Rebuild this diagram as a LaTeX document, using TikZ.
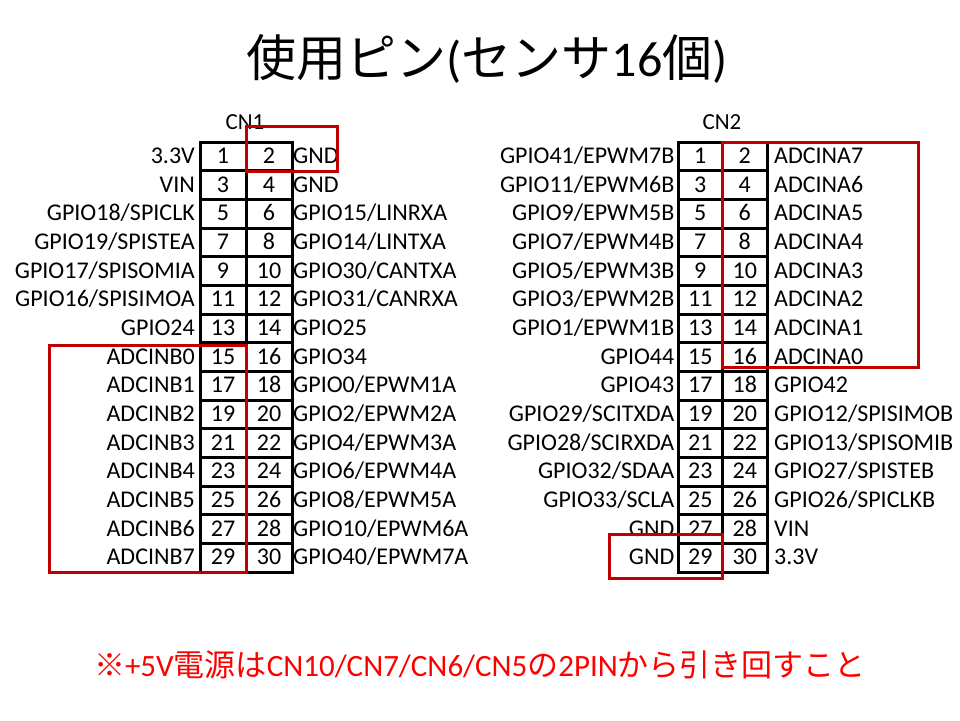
\documentclass[tikz,border=0pt]{standalone}
\usepackage{fontspec}
\setmainfont{Carlito}
\newfontfamily\jpfont{Noto Sans CJK JP}
\usepackage{tikz}
\usepackage{xcolor}
\definecolor{boxred}{HTML}{C00000}
\definecolor{notered}{HTML}{FF0000}

\begin{document}
\begin{tikzpicture}[x=1pt,y=-1pt,
		pin/.style={draw,line width=3pt,minimum height=28.667pt,inner sep=0pt,text height=14pt,text depth=0pt,font=\fontsize{24}{28}\selectfont},
		pinname/.style={inner sep=0pt,text height=14pt,text depth=0pt,font=\fontsize{24}{28}\selectfont},
		cnname/.style={font=\fontsize{23}{27}\selectfont},
		mark box/.style={draw=boxred,line width=3pt}]
			\useasboundingbox (0,0) rectangle (960,720);
			\node (title) at (487,59) {\fontsize{50}{60}\selectfont{\jpfont 使用ピン}({\jpfont センサ}16{\jpfont 個})};
			% CN1
			\node[cnname] (cn1) at (245,122) {CN1};
			\foreach \r/\lt/\rt in {1/{3.3V}/{GND},2/{VIN}/{GND},3/{GPIO18/SPICLK}/{GPIO15/LINRXA},
				4/{GPIO19/SPISTEA}/{GPIO14/LINTXA},5/{GPIO17/SPISOMIA}/{GPIO30/CANTXA},
				6/{GPIO16/SPISIMOA}/{GPIO31/CANRXA},7/{GPIO24}/{GPIO25},8/{ADCINB0}/{GPIO34},
				9/{ADCINB1}/{GPIO0/EPWM1A},10/{ADCINB2}/{GPIO2/EPWM2A},11/{ADCINB3}/{GPIO4/EPWM3A},
				12/{ADCINB4}/{GPIO6/EPWM4A},13/{ADCINB5}/{GPIO8/EPWM5A},14/{ADCINB6}/{GPIO10/EPWM6A},
				15/{ADCINB7}/{GPIO40/EPWM7A}} {
				\pgfmathtruncatemacro\po{2*\r-1}
				\pgfmathtruncatemacro\pe{2*\r}
				\node[pin,minimum width=46pt] (cn1p\po) at (223,{142+28.667*(\r-0.5)}) {\po};
				\node[pin,minimum width=46pt] (cn1p\pe) at (269,{142+28.667*(\r-0.5)}) {\pe};
				\node[pinname,anchor=east] (cn1n\po) at (195,{142+28.667*(\r-0.5)}) {\lt};
				\node[pinname,anchor=west] (cn1n\pe) at (293,{142+28.667*(\r-0.5)}) {\rt};
			}
			% CN2
			\node[cnname] (cn2) at (722,122) {CN2};
			\foreach \r/\lt/\rt in {1/{GPIO41/EPWM7B}/{ADCINA7},2/{GPIO11/EPWM6B}/{ADCINA6},
				3/{GPIO9/EPWM5B}/{ADCINA5},4/{GPIO7/EPWM4B}/{ADCINA4},5/{GPIO5/EPWM3B}/{ADCINA3},
				6/{GPIO3/EPWM2B}/{ADCINA2},7/{GPIO1/EPWM1B}/{ADCINA1},8/{GPIO44}/{ADCINA0},
				9/{GPIO43}/{GPIO42},10/{GPIO29/SCITXDA}/{GPIO12/SPISIMOB},11/{GPIO28/SCIRXDA}/{GPIO13/SPISOMIB},
				12/{GPIO32/SDAA}/{GPIO27/SPISTEB},13/{GPIO33/SCLA}/{GPIO26/SPICLKB},14/{GND}/{VIN},
				15/{GND}/{3.3V}} {
				\pgfmathtruncatemacro\po{2*\r-1}
				\pgfmathtruncatemacro\pe{2*\r}
				\node[pin,minimum width=44.5pt] (cn2p\po) at (700.25,{142+28.667*(\r-0.5)}) {\po};
				\node[pin,minimum width=44.5pt] (cn2p\pe) at (744.75,{142+28.667*(\r-0.5)}) {\pe};
				\node[pinname,anchor=east] (cn2n\po) at (674.5,{142+28.667*(\r-0.5)}) {\lt};
				\node[pinname,anchor=west] (cn2n\pe) at (774,{142+28.667*(\r-0.5)}) {\rt};
			}
			% used pins
			\draw[mark box] (246,126) rectangle (337,171);
			\draw[mark box] (49,345) rectangle (246,572);
			\draw[mark box] (722,142) rectangle (918,367);
			\draw[mark box] (609,534) rectangle (722,578);
			\node[text=notered] (note) at (480,665) {\fontsize{31}{36}\selectfont{\jpfont ※}+5V{\jpfont 電源は}CN10/CN7/CN6/CN5{\jpfont の}2PIN{\jpfont から引き回すこと}};
		\end{tikzpicture}
\end{document}
